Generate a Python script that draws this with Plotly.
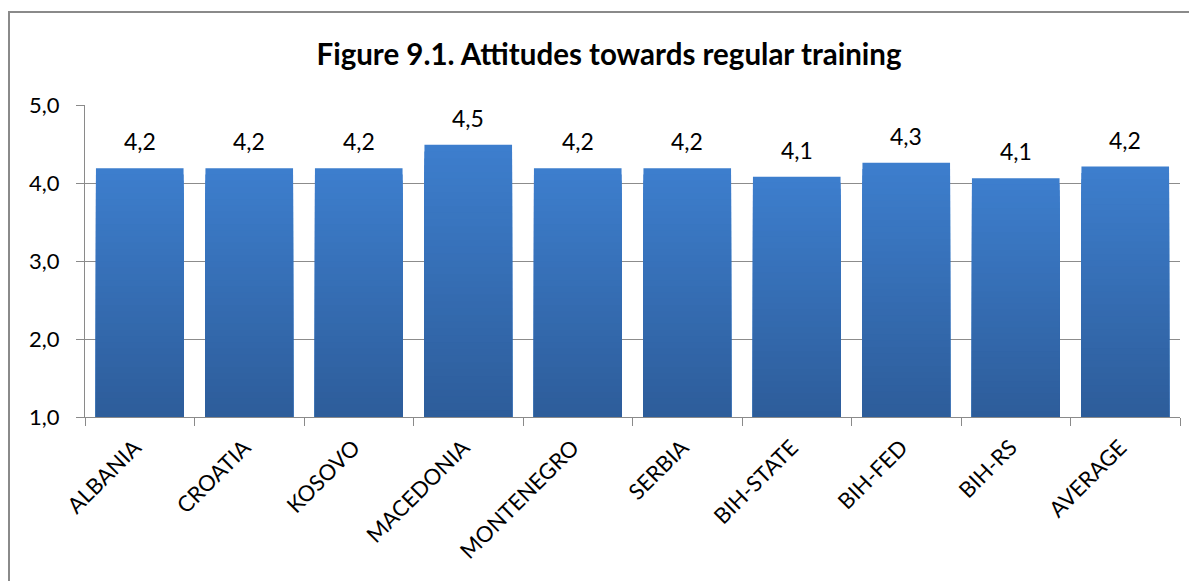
import plotly.graph_objects as go

categories = ["ALBANIA", "CROATIA", "KOSOVO", "MACEDONIA", "MONTENEGRO",
              "SERBIA", "BIH-STATE", "BIH-FED", "BIH-RS", "AVERAGE"]
values = [4.19, 4.19, 4.19, 4.49, 4.19, 4.19, 4.08, 4.26, 4.06, 4.21]
y_ticks = [1, 2, 3, 4, 5]

# page body has an 8px margin; the figure starts at (8, 8)
OFF = 8
W, H = 1197 - OFF, 581 - OFF
FONT = "Lato"
BASE = 1.0
top_rgb = (61, 126, 205)
bot_rgb = (45, 92, 153)
N = 40

fig = go.Figure()
for k in range(N):
    f = 1 - k / N
    c = tuple(int(round(b + (t - b) * f)) for t, b in zip(top_rgb, bot_rgb))
    fig.add_trace(go.Bar(
        x=categories,
        y=[(v - BASE) * f for v in values],
        base=BASE,
        marker=dict(color="rgb(%d,%d,%d)" % c, line=dict(width=0)),
        hoverinfo="skip" if k else None,
        showlegend=False,
    ))

for cat, v in zip(categories, values):
    fig.add_annotation(x=cat, y=v, text=("%.1f" % v).replace(".", ","),
                       showarrow=False, yanchor="bottom", yshift=11,
                       font=dict(family=FONT, size=23, color="#000000"))

ml, mr, mt, mb = 85 - OFF, 17, 105 - OFF, 164
pw, ph = W - ml - mr, H - mt - mb
fig.add_shape(type="rect", xref="paper", yref="paper",
              x0=(8 - OFF - ml + 1) / pw, x1=(W + 20 - ml) / pw,
              y0=-(H + 20 - mt - ph) / ph, y1=(H - mb - (12 - OFF)) / ph,
              line=dict(color="#8a8a8a", width=2), fillcolor="rgba(0,0,0,0)",
              layer="below")

fig.update_layout(
    width=W, height=H,
    margin=dict(l=ml, r=mr, t=mt, b=mb),
    barmode="overlay", bargap=0.2,
    separators=",.",
    paper_bgcolor="white", plot_bgcolor="white",
    font=dict(family=FONT, size=22, color="#000000"),
    title=dict(text="<b>Figure 9.1. Attitudes towards regular training</b>",
               x=(609 - OFF) / W, xref="container", xanchor="center",
               y=1 - (55 - OFF) / H, yref="container", yanchor="middle",
               font=dict(family=FONT, size=29.5, color="#000000")),
    xaxis=dict(showline=True, linecolor="#8a8a8a", linewidth=1,
               ticks="outside", tickson="boundaries", ticklen=8,
               tickcolor="#8a8a8a", tickangle=-45,
               ticklabelstandoff=8, ticklabelshift=-5,
               tickfont=dict(family=FONT, size=22, color="#000000"),
               showgrid=False),
    yaxis=dict(range=[1, 5], tickvals=y_ticks, tickformat=".1f",
               showline=True, linecolor="#8a8a8a", linewidth=1,
               ticks="outside", ticklen=8, tickcolor="#8a8a8a",
               showgrid=True, gridcolor="#8c8c8c", gridwidth=1,
               zeroline=False, ticklabelstandoff=12,
               tickfont=dict(family=FONT, size=22, color="#000000")),
)

fig.write_html("out.html")
